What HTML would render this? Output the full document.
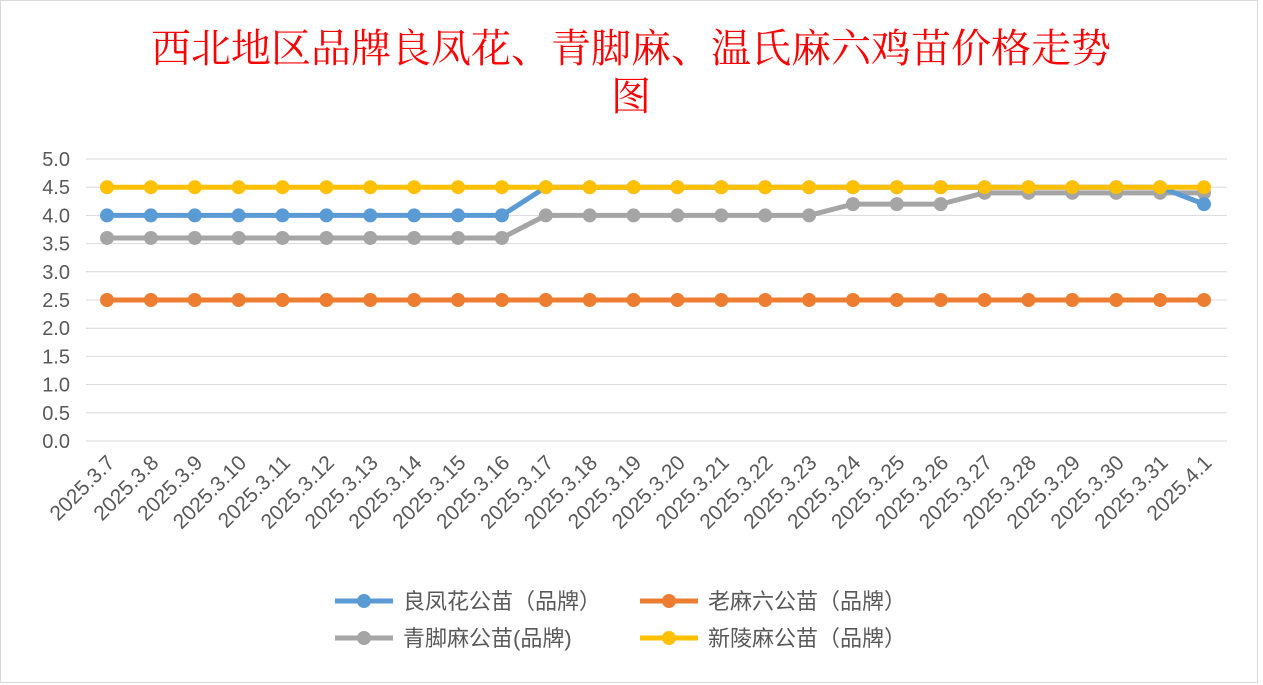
<!DOCTYPE html>
<html><head><meta charset="utf-8"><style>
body{margin:0;background:#fff;font-family:"Liberation Sans","Noto Sans CJK SC",sans-serif}
svg{display:block}
</style></head><body>
<svg width="1263" height="685">
<rect x="0.5" y="0.5" width="1257" height="682" fill="#fff" stroke="#d9d9d9"/>
<text x="631" y="62" text-anchor="middle" fill="#ff0000" font-size="40" font-family="'Liberation Serif','Noto Serif CJK SC',serif">西北地区品牌良凤花、青脚麻、温氏麻六鸡苗价格走势</text>
<text x="631" y="110" text-anchor="middle" fill="#ff0000" font-size="40" font-family="'Liberation Serif','Noto Serif CJK SC',serif">图</text>
<g id="grid"></g><g id="series"></g><g id="labels"></g>
<g font-size="22" fill="#595959">
<line x1="335" y1="601" x2="393" y2="601" stroke="#5b9bd5" stroke-width="5"/><circle cx="364" cy="601" r="7" fill="#5b9bd5"/>
<text x="403" y="609">良凤花公苗（品牌）</text>
<line x1="640" y1="601" x2="698" y2="601" stroke="#ed7d31" stroke-width="5"/><circle cx="669" cy="601" r="7" fill="#ed7d31"/>
<text x="708" y="609">老麻六公苗（品牌）</text>
<line x1="335" y1="638" x2="393" y2="638" stroke="#a5a5a5" stroke-width="5"/><circle cx="364" cy="638" r="7" fill="#a5a5a5"/>
<text x="403" y="646">青脚麻公苗(品牌)</text>
<line x1="640" y1="638" x2="698" y2="638" stroke="#ffc000" stroke-width="5"/><circle cx="669" cy="638" r="7" fill="#ffc000"/>
<text x="708" y="646">新陵麻公苗（品牌）</text>
</g>
</svg>
<script>
const categories=["2025.3.7","2025.3.8","2025.3.9","2025.3.10","2025.3.11","2025.3.12","2025.3.13","2025.3.14","2025.3.15","2025.3.16","2025.3.17","2025.3.18","2025.3.19","2025.3.20","2025.3.21","2025.3.22","2025.3.23","2025.3.24","2025.3.25","2025.3.26","2025.3.27","2025.3.28","2025.3.29","2025.3.30","2025.3.31","2025.4.1"];
const liangfenghua=[4.0,4.0,4.0,4.0,4.0,4.0,4.0,4.0,4.0,4.0,4.5,4.5,4.5,4.5,4.5,4.5,4.5,4.5,4.5,4.5,4.5,4.5,4.5,4.5,4.5,4.2];
const laomaliu=[2.5,2.5,2.5,2.5,2.5,2.5,2.5,2.5,2.5,2.5,2.5,2.5,2.5,2.5,2.5,2.5,2.5,2.5,2.5,2.5,2.5,2.5,2.5,2.5,2.5,2.5];
const qingjiaoma=[3.6,3.6,3.6,3.6,3.6,3.6,3.6,3.6,3.6,3.6,4.0,4.0,4.0,4.0,4.0,4.0,4.0,4.2,4.2,4.2,4.4,4.4,4.4,4.4,4.4,4.4];
const xinlingma=[4.5,4.5,4.5,4.5,4.5,4.5,4.5,4.5,4.5,4.5,4.5,4.5,4.5,4.5,4.5,4.5,4.5,4.5,4.5,4.5,4.5,4.5,4.5,4.5,4.5,4.5];
const yTicks=[0,0.5,1,1.5,2,2.5,3,3.5,4,4.5,5];
const NS="http://www.w3.org/2000/svg";
const x=i=>107+i*(1204-107)/(categories.length-1);
const y=v=>441-v*(441-159)/5;
function mk(t,a,p){const e=document.createElementNS(NS,t);for(const k in a)e.setAttribute(k,a[k]);p.appendChild(e);return e;}
const grid=document.getElementById('grid'),labels=document.getElementById('labels'),ser=document.getElementById('series');
yTicks.forEach(v=>{
 const l=mk('line',{x1:86,x2:1227,y1:y(v),y2:y(v),stroke:'#d9d9d9','stroke-width':1},grid);
 
 
 const t=mk('text',{x:70,y:y(v)+7,'text-anchor':'end','font-size':20,fill:'#595959'},labels);
 t.textContent=v.toFixed(1);
 
 
});
categories.forEach((c,i)=>{
 const t=mk('text',{x:x(i)+9,y:464,'text-anchor':'end','font-size':21,fill:'#595959',transform:`rotate(-45 ${x(i)+9} 464)`},labels);
 t.textContent=c;
 
 
});
[[laomaliu,'#ed7d31','series-laomaliu'],[qingjiaoma,'#a5a5a5','series-qingjiaoma'],[liangfenghua,'#5b9bd5','series-liangfenghua'],[xinlingma,'#ffc000','series-xinlingma']].forEach(([d,c,n])=>{
 const g=mk('g',{},ser);
 
 
 const p=mk('polyline',{points:d.map((v,i)=>x(i)+','+y(v)).join(' '),fill:'none',stroke:c,'stroke-width':5,'stroke-linejoin':'round'},g);
 
 
 d.forEach((v,i)=>{
  const m=mk('circle',{cx:x(i),cy:y(v),r:7,fill:c},g);
  
  
 });
});
</script>
</body></html>
